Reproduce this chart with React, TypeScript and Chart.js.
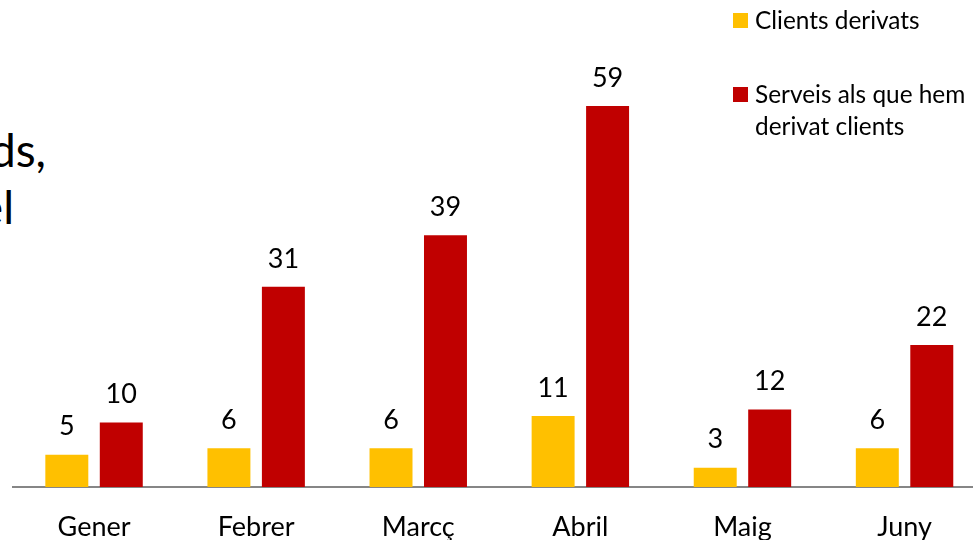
import React, { useEffect, useRef } from "react";
import { Chart, registerables } from "chart.js";

Chart.register(...registerables);

const categories = ["Gener", "Febrer", "Marcç", "Abril", "Maig", "Juny"];
const clientsDerivats = [5, 6, 6, 11, 3, 6];
const serveisDerivat = [10, 31, 39, 59, 12, 22];
const seriesNames = ["Clients derivats", "Serveis als que hem derivat clients"];
const yMax = 70;

const FONT = "Lato, 'Open Sans', sans-serif";

const labelPlugin = {
  id: "barValueLabels",
  afterDatasetsDraw(chart: any) {
    const ctx = chart.ctx;
    ctx.save();
    ctx.font = `27px ${FONT}`;
    ctx.fillStyle = "#000";
    ctx.textAlign = "center";
    ctx.textBaseline = "middle";
    chart.data.datasets.forEach((ds: any, di: number) => {
      const meta = chart.getDatasetMeta(di);
      meta.data.forEach((el: any, i: number) => {
        ctx.fillText(String(ds.data[i]), el.x, el.y - 28);
      });
    });
    ctx.restore();
  },
};

export default function App() {
  const canvasRef = useRef<HTMLCanvasElement | null>(null);

  useEffect(() => {
    if (!canvasRef.current) return;
    const chart = new Chart(canvasRef.current, {
      type: "bar",
      data: {
        labels: categories,
        datasets: [
          {
            label: seriesNames[0],
            data: clientsDerivats,
            backgroundColor: "#FFC000",
            barPercentage: 0.789,
            categoryPercentage: 0.672,
          },
          {
            label: seriesNames[1],
            data: serveisDerivat,
            backgroundColor: "#C00000",
            barPercentage: 0.789,
            categoryPercentage: 0.672,
          },
        ],
      },
      options: {
        animation: false,
        responsive: false,
        maintainAspectRatio: false,
        layout: { padding: { left: 13, right: 14.4, top: 35, bottom: 0 } },
        plugins: {
          legend: { display: false },
          tooltip: { enabled: false },
        },
        scales: {
          y: {
            display: false,
            min: 0,
            max: yMax,
          },
          x: {
            grid: { display: false, drawTicks: false },
            border: { display: true, color: "#868686", width: 2 },
            ticks: {
              color: "#000",
              font: { family: FONT, size: 27 },
              padding: 24,
            },
            afterFit: (scale: any) => {
              scale.height = 53;
            },
          },
        },
      },
      plugins: [labelPlugin],
    });
    return () => chart.destroy();
  }, []);

  const legendText: React.CSSProperties = {
    position: "absolute",
    left: 755,
    fontFamily: FONT,
    fontSize: 24.4,
    lineHeight: "32px",
    color: "#000",
    whiteSpace: "nowrap",
  };
  const bigText: React.CSSProperties = {
    position: "absolute",
    fontFamily: FONT,
    fontSize: 46,
    lineHeight: "57px",
    color: "#000",
    whiteSpace: "nowrap",
    textAlign: "right",
  };

  return (
    <div
      style={{
        position: "fixed",
        left: 0,
        top: 0,
        width: 973,
        height: 540,
        overflow: "hidden",
        background: "#fff",
      }}
    >
      <div style={{ ...bigText, right: 973 - 46, top: 121 }}>ds,</div>
      <div style={{ ...bigText, right: 973 - 14, top: 178 }}>el</div>
      <canvas
        ref={canvasRef}
        width={1000}
        height={540}
        style={{ position: "absolute", left: 0, top: 0, width: 1000, height: 540 }}
      />
      <div style={{ position: "absolute", left: 733, top: 13, width: 15, height: 15, background: "#FFC000" }} />
      <div style={{ ...legendText, top: 4 }}>{seriesNames[0]}</div>
      <div style={{ position: "absolute", left: 733, top: 87, width: 15, height: 15, background: "#C00000" }} />
      <div style={{ ...legendText, top: 78 }}>
        Serveis als que hem
        <br />
        derivat clients
      </div>
    </div>
  );
}
